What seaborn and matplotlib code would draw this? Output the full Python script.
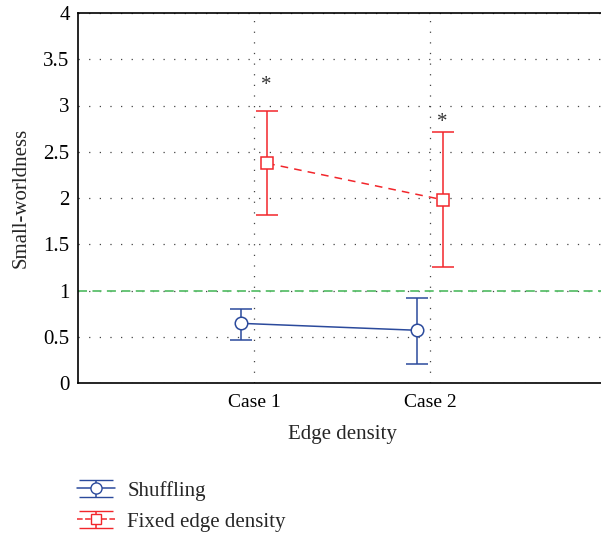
import numpy as np
import pandas as pd
import seaborn as sns
import matplotlib
matplotlib.use("Agg")
import matplotlib.pyplot as plt
from matplotlib.legend_handler import HandlerErrorbar

# ---- data ----
cases = ["Case 1", "Case 2"]
shuffling_mean = [0.645, 0.57]
shuffling_low = [0.47, 0.21]
shuffling_high = [0.80, 0.92]
fixed_mean = [2.375, 1.98]
fixed_low = [1.82, 1.25]
fixed_high = [2.94, 2.71]
star_y = [3.22, 2.82]
yticks = [0, 0.5, 1, 1.5, 2, 2.5, 3, 3.5, 4]
ytick_labels = ["0", "0.5", "1", "1.5", "2", "2.5", "3", "3.5", "4"]

sns.set_style("white")
plt.rcParams["font.family"] = ["Liberation Serif", "DejaVu Serif"]

blue = "#2b4a9c"
red = "#f2262b"
green = "#5cbf6c"

fig = plt.figure(figsize=(6.01, 5.35), dpi=100)
ax = fig.add_axes([78 / 601, 1 - 383 / 535, (606 - 78) / 601, (383 - 13) / 535])

pos = np.arange(1, len(cases) + 1)
off = 0.075

df = pd.DataFrame({
    "x": np.concatenate([pos - off, pos + off]),
    "y": shuffling_mean + fixed_mean,
    "series": ["Shuffling"] * 2 + ["Fixed edge density"] * 2,
})

# error bars
ax.errorbar(pos - off, shuffling_mean,
            yerr=[np.array(shuffling_mean) - np.array(shuffling_low),
                  np.array(shuffling_high) - np.array(shuffling_mean)],
            fmt="none", ecolor=blue, elinewidth=1.1, capsize=8, capthick=1.1, zorder=3)
ax.errorbar(pos + off, fixed_mean,
            yerr=[np.array(fixed_mean) - np.array(fixed_low),
                  np.array(fixed_high) - np.array(fixed_mean)],
            fmt="none", ecolor=red, elinewidth=1.1, capsize=8, capthick=1.1, zorder=3)

sns.lineplot(data=df[df.series == "Shuffling"], x="x", y="y", ax=ax, color=blue,
             marker="o", markersize=9, markerfacecolor="white", markeredgecolor=blue,
             markeredgewidth=1.1, linewidth=1.1, legend=False, zorder=4)
sns.lineplot(data=df[df.series == "Fixed edge density"], x="x", y="y", ax=ax, color=red,
             marker="s", markersize=9, markerfacecolor="white", markeredgecolor=red,
             markeredgewidth=1.1, linewidth=1.1, linestyle=(0, (5, 4)), legend=False, zorder=4)

# reference line
ax.axhline(1, color=green, linewidth=1.3, linestyle=(0, (5, 3)), zorder=2)

# stars
for p, sy in zip(pos + off, star_y):
    ax.text(p - 0.005, sy, "*", ha="center", va="center", fontsize=15, color="#333333")

# legend handles via empty errorbar containers
h1 = ax.errorbar([np.nan], [np.nan], yerr=[np.nan], fmt="o-", color=blue, ecolor=blue,
                 mfc="white", mec=blue, ms=8, lw=1.1, capsize=12, label="Shuffling")
h2 = ax.errorbar([np.nan], [np.nan], yerr=[np.nan], fmt="s--", color=red, ecolor=red,
                 mfc="white", mec=red, ms=7.5, lw=1.1, capsize=12, label="Fixed edge density")
fig.legend(handles=[h1, h2], loc="center left", bbox_to_anchor=(0.122, 0.054),
           frameon=False, fontsize=15, handlelength=1.8, labelspacing=0.55,
           handletextpad=0.6, borderpad=0.2, borderaxespad=0,
           handler_map={type(h1): HandlerErrorbar(yerr_size=0.42)})

ax.set_xlim(0, 3)
ax.set_ylim(0, 4)
ax.set_xticks(pos)
ax.set_xticklabels(cases)
ax.set_yticks(yticks)
ax.set_yticklabels(ytick_labels)
ax.tick_params(direction="in", length=4, width=0.8, colors="black")
ax.tick_params(axis="y", labelsize=15, pad=6)
ax.tick_params(axis="x", labelsize=14, pad=8)
ax.set_xlabel("Edge density", fontsize=15, labelpad=10)
ax.set_ylabel("Small-worldness", fontsize=15, labelpad=9)

ax.grid(True, color="#444444", linestyle=(0, (1, 7.5)), linewidth=0.9)
ax.set_axisbelow(True)
for s in ax.spines.values():
    s.set_color("black")
    s.set_linewidth(1.2)

fig.savefig("out.png", dpi=100)
